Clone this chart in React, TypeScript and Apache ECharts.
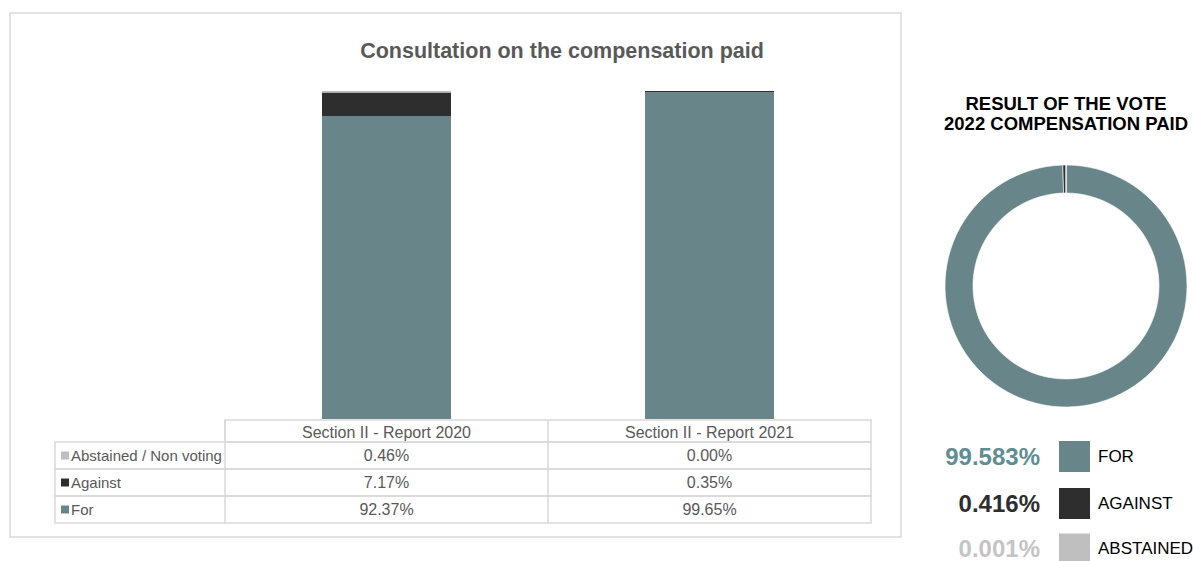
import React, { useEffect, useRef } from "react";
import * as echarts from "echarts";

const categories = ["Section II - Report 2020", "Section II - Report 2021"];
const seriesNames = ["Abstained / Non voting", "Against", "For"];
const forValues = [92.37, 99.65];
const againstValues = [7.17, 0.35];
const abstainedValues = [0.46, 0.0];
const donutLabels = ["FOR", "AGAINST", "ABSTAINED"];
const donutValues = [99.583, 0.416, 0.001];

const FONT = "'Liberation Sans', Arial, sans-serif";
const C_FOR = "#68868a";
const C_AGAINST = "#2e2e2e";
const C_ABST = "#bfbfbf";
const GRID_L = 225;
const GRID_R = 871;
const GRID_T = 91;
const GRID_B = 419;
const BORDER = "#d9d9d9";

export default function App() {
  const ref = useRef<HTMLDivElement>(null);
  useEffect(() => {
    if (!ref.current) return;
    const chart = echarts.init(ref.current, null, { renderer: "svg" });
    const bandW = (GRID_R - GRID_L) / categories.length;
    const rowTop = 442;
    const rowH = 27;
    const rows = [
      { name: seriesNames[0], color: C_ABST, vals: abstainedValues },
      { name: seriesNames[1], color: C_AGAINST, vals: againstValues },
      { name: seriesNames[2], color: C_FOR, vals: forValues },
    ];
    const g: any[] = [];
    g.push({ type: "rect", shape: { x: 10, y: 13, width: 891, height: 524 }, style: { fill: "none", stroke: BORDER, lineWidth: 1.5 }, silent: true });
    g.push({ type: "rect", shape: { x: GRID_L, y: 420, width: GRID_R - GRID_L, height: 22 }, style: { fill: "none", stroke: BORDER, lineWidth: 1.5 } });
    rows.forEach((r, i) => {
      const y = rowTop + i * rowH;
      g.push({ type: "rect", shape: { x: 55, y, width: GRID_R - 55, height: rowH }, style: { fill: "none", stroke: BORDER, lineWidth: 1.5 } });
      g.push({ type: "rect", shape: { x: 61, y: y + rowH / 2 - 4, width: 8, height: 8 }, style: { fill: r.color } });
      g.push({ type: "text", x: 71, y: y + rowH / 2, style: { text: r.name, font: `15px ${FONT}`, fill: "#595959", verticalAlign: "middle", align: "left" } });
      r.vals.forEach((v, j) => {
        g.push({ type: "text", x: GRID_L + bandW * (j + 0.5), y: y + rowH / 2, style: { text: v.toFixed(2) + "%", font: `16px ${FONT}`, fill: "#595959", verticalAlign: "middle", align: "center" } });
      });
    });
    g.push({ type: "line", shape: { x1: GRID_L, y1: 420, x2: GRID_L, y2: rowTop + 3 * rowH }, style: { stroke: BORDER, lineWidth: 1.5 } });
    for (let j = 1; j < categories.length; j++) {
      const x = GRID_L + bandW * j;
      g.push({ type: "line", shape: { x1: x, y1: 420, x2: x, y2: rowTop + 3 * rowH }, style: { stroke: BORDER, lineWidth: 1.5 } });
    }
    g.push({ type: "text", x: 1066, y: 103, style: { text: "RESULT OF THE VOTE", font: `bold 18.5px ${FONT}`, fill: "#000", align: "center", verticalAlign: "middle" } });
    g.push({ type: "text", x: 1066, y: 123, style: { text: "2022 COMPENSATION PAID", font: `bold 18.5px ${FONT}`, fill: "#000", align: "center", verticalAlign: "middle" } });
    const legColors = [C_FOR, C_AGAINST, C_ABST];
    const pctColors = ["#5e8e92", "#2e2e2e", "#c4c4c4"];
    const legY = [456, 503, 548.5];
    donutValues.forEach((v, i) => {
      g.push({ type: "text", x: 1040, y: legY[i], style: { text: v.toFixed(3) + "%", font: `bold 24px ${FONT}`, fill: pctColors[i], align: "right", verticalAlign: "middle" } });
      g.push({ type: "rect", shape: { x: 1059, y: legY[i] - 15, width: 31, height: 31 }, style: { fill: legColors[i] } });
      g.push({ type: "text", x: 1098, y: legY[i], style: { text: donutLabels[i], font: `17px ${FONT}`, fill: "#000", align: "left", verticalAlign: "middle" } });
    });

    chart.setOption({
      animation: false,
      title: {
        text: "Consultation on the compensation paid",
        left: 557,
        top: 35,
        textAlign: "center",
        textStyle: { fontFamily: FONT, fontSize: 21.5, fontWeight: "bold", color: "#595959" },
      },
      grid: { left: GRID_L, top: GRID_T, width: GRID_R - GRID_L, height: GRID_B - GRID_T },
      xAxis: {
        type: "category",
        data: categories,
        axisLine: { show: false },
        axisTick: { show: false },
        axisLabel: { fontFamily: FONT, fontSize: 16, color: "#595959", margin: 5 },
      },
      yAxis: { type: "value", min: 0, max: 100, show: false, splitLine: { show: false } },
      series: [
        { name: seriesNames[2], type: "bar", stack: "s", data: forValues, barWidth: 129, itemStyle: { color: C_FOR } },
        { name: seriesNames[1], type: "bar", stack: "s", data: againstValues, barWidth: 129, itemStyle: { color: C_AGAINST } },
        { name: seriesNames[0], type: "bar", stack: "s", data: abstainedValues, barWidth: 129, itemStyle: { color: C_ABST } },
        {
          type: "pie",
          center: [1066, 286],
          radius: [93, 121],
          startAngle: 90,
          label: { show: false },
          labelLine: { show: false },
          itemStyle: { borderColor: "#fff", borderWidth: 0.6 },
          data: donutValues.map((v, i) => ({ name: donutLabels[i], value: v, itemStyle: { color: legColors[i] } })),
        },
      ],
      graphic: g,
    });
    return () => chart.dispose();
  }, []);
  return <div ref={ref} style={{ position: "fixed", left: 0, top: 0, width: 1193, height: 561, background: "#fff" }} />;
}
